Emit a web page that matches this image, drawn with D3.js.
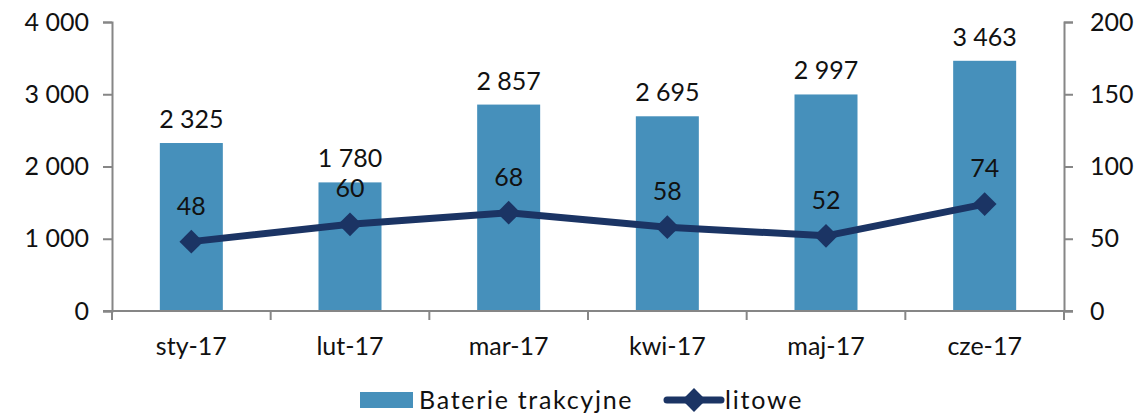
<!DOCTYPE html>
<html>
<head>
<meta charset="utf-8">
<script src="https://cdn.jsdelivr.net/npm/d3@7"></script>
<style>
  body { margin: 0; background: #fff; }
  text { font-family: "Lato", "DejaVu Sans", sans-serif; fill: #111; }
</style>
</head>
<body>
<div class="chart"></div>
<script>
// data
var months = ["sty-17", "lut-17", "mar-17", "kwi-17", "maj-17", "cze-17"];
var baterie = [2325, 1780, 2857, 2695, 2997, 3463];
var litowe = [48, 60, 68, 58, 52, 74];
var leftTicks = [0, 1000, 2000, 3000, 4000];
var rightTicks = [0, 50, 100, 150, 200];

var W = 1137, H = 415;
var margin = {top: 22, right: 73, bottom: 104, left: 112},
    width = W - margin.left - margin.right,
    height = H - margin.top - margin.bottom;

var barColor = "#4690BB", lineColor = "#1B3464", axisColor = "#868686";
var fontSize = "25px";

var fmt = function (v) {
    return d3.format(",")(v).replace(/,/g, " ");
};

var svg = d3.select(".chart").append("svg")
    .attr("width", W)
    .attr("height", H);

var g = svg.append("g")
    .attr("transform", "translate(" + margin.left + "," + margin.top + ")");

// scales
var xc = d3.scaleBand().domain(months).range([0, width]);
var y = d3.scaleLinear().domain([0, 4000]).range([height, 0]);
var y2 = d3.scaleLinear().domain([0, 200]).range([height, 0]);
var barW = 63;

// bars
g.selectAll(".bar")
    .data(months)
    .enter().append("rect")
    .attr("class", "bar")
    .attr("x", function (d) { return xc(d) + (xc.bandwidth() - barW) / 2; })
    .attr("width", barW)
    .attr("y", function (d, i) { return y(baterie[i]); })
    .attr("height", function (d, i) { return height - y(baterie[i]); })
    .style("fill", barColor);

// bar labels
g.selectAll(".barlabel")
    .data(months)
    .enter().append("text")
    .attr("x", function (d) { return xc(d) + xc.bandwidth() / 2; })
    .attr("y", function (d, i) { return y(baterie[i]) - 15; })
    .attr("text-anchor", "middle")
    .style("font-size", fontSize)
    .text(function (d, i) { return fmt(baterie[i]); });

// axes
var leftAxis = g.append("g")
    .call(d3.axisLeft(y).tickValues(leftTicks).tickFormat(fmt).tickSize(9).tickPadding(14));
var rightAxis = g.append("g")
    .attr("transform", "translate(" + width + ",0)")
    .call(d3.axisRight(y2).tickValues(rightTicks).tickSize(9).tickPadding(17));
var xAxis = g.append("g")
    .attr("transform", "translate(0," + height + ")")
    .call(d3.axisBottom(xc).tickSize(0).tickPadding(26));

// category boundary ticks
g.append("g").selectAll("line")
    .data(d3.range(months.length + 1))
    .enter().append("line")
    .attr("x1", function (i) { return i * xc.step(); })
    .attr("x2", function (i) { return i * xc.step(); })
    .attr("y1", height)
    .attr("y2", height + 9)
    .style("stroke", axisColor)
    .style("stroke-width", 2);

[leftAxis, rightAxis, xAxis].forEach(function (a) {
    a.selectAll("path, line").style("stroke", axisColor).style("stroke-width", 2);
    a.selectAll("text").style("font-size", fontSize).style("fill", "#111")
        .style("font-family", "Lato, 'DejaVu Sans', sans-serif");
});
xAxis.select(".domain").attr("d", "M-9,0H" + (width + 9));

// line
var line = d3.line()
    .x(function (d, i) { return xc(months[i]) + xc.bandwidth() / 2; })
    .y(function (d) { return y2(d); });

g.append("path")
    .datum(litowe)
    .attr("d", line)
    .style("fill", "none")
    .style("stroke", lineColor)
    .style("stroke-width", 7)
    .style("stroke-linejoin", "round");

var diamond = d3.symbol().type(d3.symbolDiamond2).size(360);
g.selectAll(".pt")
    .data(litowe)
    .enter().append("path")
    .attr("d", diamond)
    .attr("transform", function (d, i) {
        return "translate(" + (xc(months[i]) + xc.bandwidth() / 2) + "," + y2(d) + ")";
    })
    .style("fill", lineColor);

g.selectAll(".ptlabel")
    .data(litowe)
    .enter().append("text")
    .attr("x", function (d, i) { return xc(months[i]) + xc.bandwidth() / 2; })
    .attr("y", function (d) { return y2(d) - 27; })
    .attr("text-anchor", "middle")
    .style("font-size", fontSize)
    .text(function (d) { return d; });

// legend
var lg = svg.append("g").attr("transform", "translate(0,400)");
lg.append("rect")
    .attr("x", 360).attr("y", -8).attr("width", 53).attr("height", 16)
    .style("fill", barColor);
lg.append("text")
    .attr("x", 419).attr("y", 0).attr("dy", "0.35em")
    .style("font-size", fontSize)
    .style("letter-spacing", "1.7px")
    .text("Baterie trakcyjne");
lg.append("line")
    .attr("x1", 667).attr("x2", 721).attr("y1", 0).attr("y2", 0)
    .style("stroke", lineColor).style("stroke-width", 7).style("stroke-linecap", "round");
lg.append("path")
    .attr("d", diamond)
    .attr("transform", "translate(694,0)")
    .style("fill", lineColor);
lg.append("text")
    .attr("x", 725).attr("y", 0).attr("dy", "0.35em")
    .style("font-size", fontSize)
    .style("letter-spacing", "1.8px")
    .text("litowe");
</script>
</body>
</html>
